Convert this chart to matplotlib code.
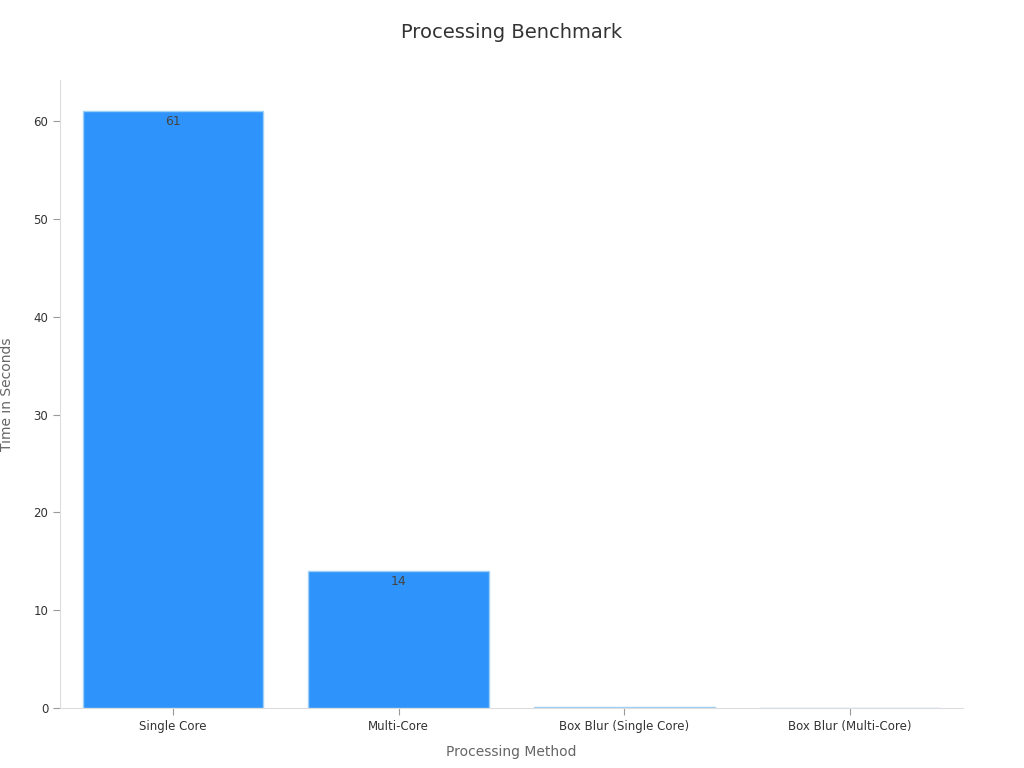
import matplotlib.pyplot as plt

methods = ['Single Core', 'Multi-Core', 'Box Blur (Single Core)', 'Box Blur (Multi-Core)']
times = [61, 14, 0.15, 0.03]

fig = plt.figure(figsize=(10.24, 7.68), dpi=100)
ax = fig.add_axes([60/1024, 1 - 708/768, 903/1024, 628/768])

bars = ax.bar(methods, times, width=0.8, color='#2E93FA', edgecolor='#9ecff5', linewidth=1)
for b, v in zip(bars, times):
    if v >= 1:
        ax.text(b.get_x() + b.get_width()/2, v - 0.4, f'{v:g}', ha='center', va='top',
                fontsize=9, color='#444444')

ax.set_xlim(-0.5, 3.5)
ax.set_ylim(0, 64.2)
ax.set_yticks([0, 10, 20, 30, 40, 50, 60])
ax.tick_params(labelsize=8.5, colors='#333333', length=5)
ax.tick_params(axis='both', color='#999999')
for s in ['top', 'right']:
    ax.spines[s].set_visible(False)
for s in ['left', 'bottom']:
    ax.spines[s].set_color('#dddddd')

ax.set_xlabel('Processing Method', fontsize=10, color='#666666', labelpad=9)
ax.set_ylabel('Time in Seconds', fontsize=10, color='#666666', labelpad=14)
fig.text(0.5, 1 - 33/768, 'Processing Benchmark', ha='center', va='center', fontsize=14, color='#333333')

fig.savefig('out.png', dpi=100, facecolor='white')
